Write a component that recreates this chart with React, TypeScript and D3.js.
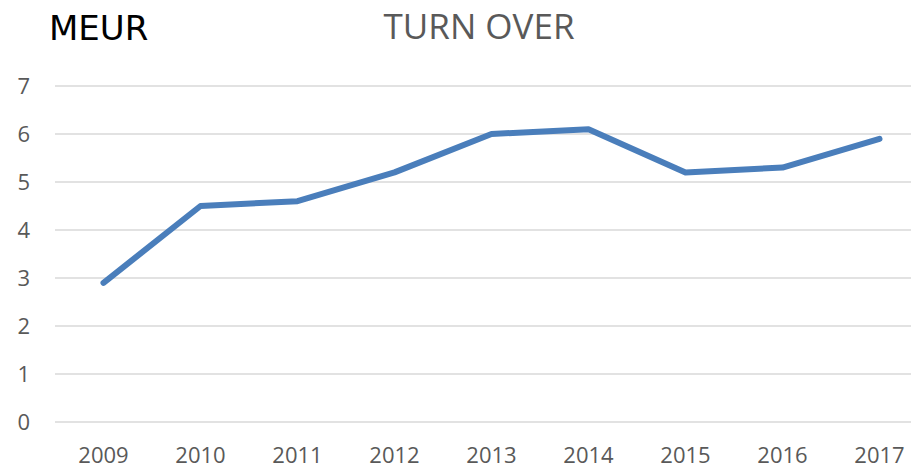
import { scaleBand, scaleLinear, line } from "d3";

// 营业额数据 (MEUR)
const years = ["2009", "2010", "2011", "2012", "2013", "2014", "2015", "2016", "2017"];
const turnover = [2.9, 4.5, 4.6, 5.2, 6.0, 6.1, 5.2, 5.3, 5.9];
const yTicks = [0, 1, 2, 3, 4, 5, 6, 7];

export default function App() {
    const width = 911;
    const height = 465;
    // plot area runs off the right edge like the original screenshot
    const left = 55;
    const right = 928;
    const top = 86;
    const bottom = 422;

    const x = scaleBand().domain(years).range([left, right]);
    const y = scaleLinear().domain([0, 7]).range([bottom, top]);
    const cx = (d: string) => (x(d) ?? 0) + x.bandwidth() / 2;

    const path = line<number>()
        .x((_, i) => cx(years[i]))
        .y(d => y(d))(turnover);

    return (
        <svg
            width={width}
            height={height}
            style={{ position: "absolute", left: 0, top: 0, background: "#fff" }}
        >
            <text x={49} y={40} fontFamily="DejaVu Sans" fontSize={34} fill="#000">
                MEUR
            </text>
            <text x={479} y={39} textAnchor="middle" fontFamily="Open Sans" fontSize={35} fill="#595959">
                TURN OVER
            </text>

            {/* 网格线 + y 轴标签 */}
            {yTicks.map(t => (
                <g key={t}>
                    <line x1={left} x2={right} y1={y(t)} y2={y(t)} stroke="#d9d9d9" strokeWidth={1.5} />
                    <text
                        x={30}
                        y={y(t)}
                        dy="0.35em"
                        textAnchor="end"
                        fontFamily="Open Sans"
                        fontSize={22}
                        fill="#595959"
                    >
                        {t}
                    </text>
                </g>
            ))}

            {years.map(d => (
                <text
                    key={d}
                    x={cx(d)}
                    y={463}
                    textAnchor="middle"
                    fontFamily="Open Sans"
                    fontSize={22}
                    fill="#595959"
                >
                    {d}
                </text>
            ))}

            <path
                d={path ?? ""}
                fill="none"
                stroke="#4a7ebb"
                strokeWidth={6}
                strokeLinecap="round"
                strokeLinejoin="round"
            />
        </svg>
    );
}
